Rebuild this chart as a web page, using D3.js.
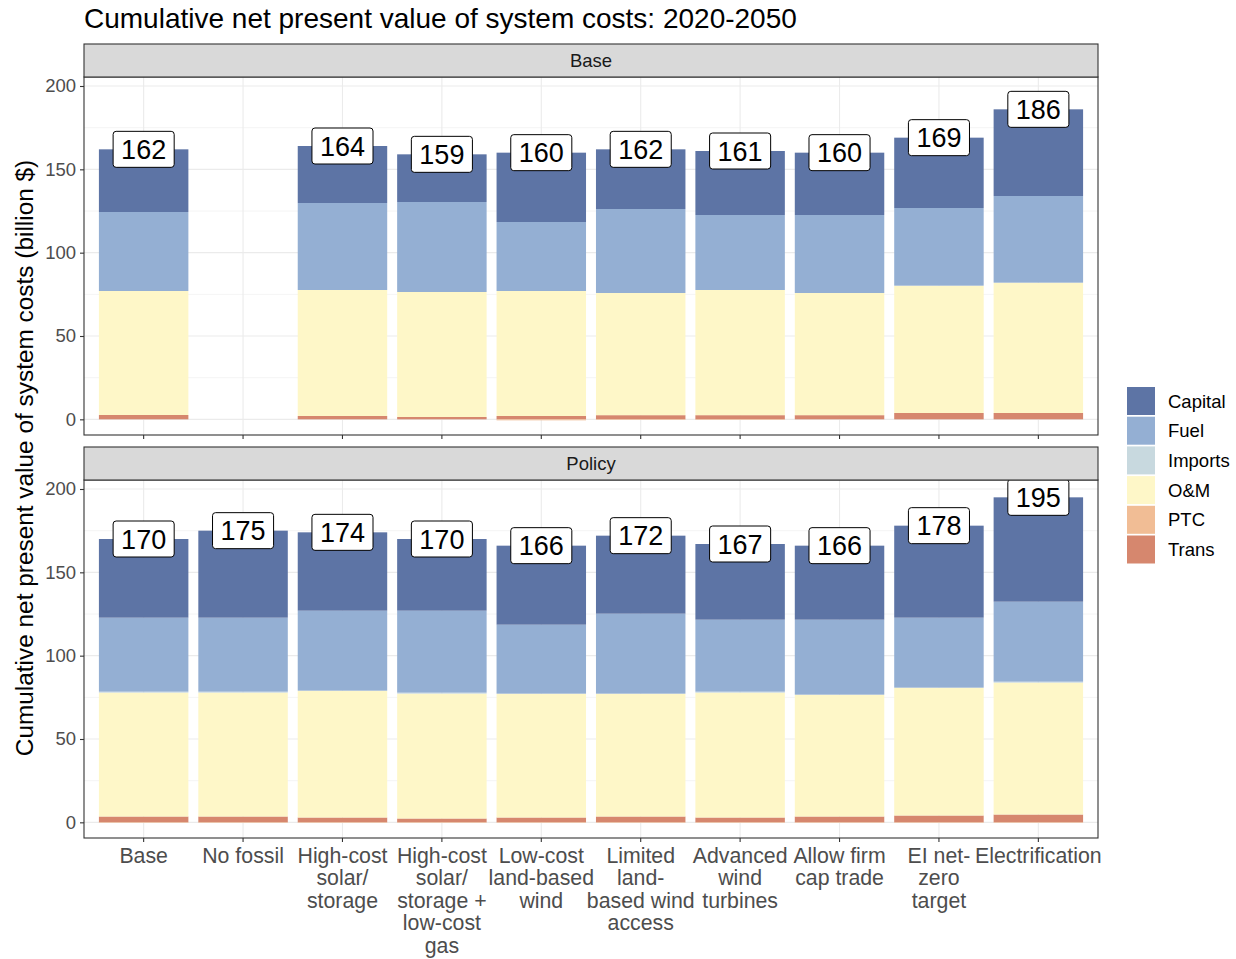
<!DOCTYPE html>
<html><head><meta charset="utf-8">
<script src="https://cdn.jsdelivr.net/npm/d3@7"></script>
<style>body{margin:0;background:#fff} text{font-family:"Liberation Sans",Arial,sans-serif}</style>
</head><body><svg id="c" width="1236" height="959"></svg>
<script>
// ---------- data ----------
const categories = ["Base","No fossil","High-cost solar/storage","High-cost solar/storage + low-cost gas","Low-cost land-based wind","Limited land-based wind access","Advanced wind turbines","Allow firm cap trade","EI net-zero target","Electrification"];
const categoryLabels = [["Base"],["No fossil"],["High-cost","solar/","storage"],["High-cost","solar/","storage +","low-cost","gas"],["Low-cost","land-based","wind"],["Limited","land-","based wind","access"],["Advanced","wind","turbines"],["Allow firm","cap trade"],["EI net-","zero","target"],["Electrification"]];
const panels = ["Base","Policy"];
const seriesNames = ["Capital","Fuel","Imports","O&M","PTC","Trans"];
const seriesColors = ["#5D74A5","#94AFD3","#C8D9DF","#FEF7C8","#F1BD95","#D6876E"];

// Base panel (null = no bar)
const capitalBase = [37.6, null, 34.2, 28.6, 41.6, 35.8, 38.4, 37.4, 42.2, 52.0];
const fuelBase    = [47.4, null, 52.2, 54.0, 41.4, 50.4, 45.0, 46.8, 46.6, 52.0];
const importsBase = [0, null, 0, 0, 0, 0, 0, 0, 0, 0];
const omBase      = [74.4, null, 75.6, 75.0, 75.0, 73.3, 75.1, 73.3, 76.4, 78.2];
const ptcBase     = [0, null, 0, 0, -0.6, -0.3, -0.3, 0, 0, 0];
const transBase   = [2.6, null, 2.0, 1.4, 2.0, 2.5, 2.5, 2.5, 3.8, 3.8];
const totalBase   = [162, null, 164, 159, 160, 162, 161, 160, 169, 186];

// Policy panel
const capitalPolicy = [47.2, 52.2, 47.0, 43.0, 47.4, 46.8, 45.4, 44.4, 55.2, 62.6];
const fuelPolicy    = [44.4, 44.4, 48.0, 49.2, 41.4, 48.0, 43.2, 45.0, 42.0, 48.0];
const importsPolicy = [0.6, 0.6, 0, 0.6, 0, 0, 0.6, 0, 0, 0.6];
const omPolicy      = [74.3, 74.3, 76.1, 74.9, 74.3, 73.7, 74.9, 73.1, 76.7, 79.1];
const ptcPolicy     = [-0.3, -0.3, -0.3, -0.3, -0.3, -0.3, -0.3, -0.3, -0.3, -0.3];
const transPolicy   = [3.5, 3.5, 2.9, 2.3, 2.9, 3.5, 2.9, 3.5, 4.1, 4.7];
const totalPolicy   = [170, 175, 174, 170, 166, 172, 167, 166, 178, 195];

const yTicks = [0, 50, 100, 150, 200];
const yMinor = [25, 75, 125, 175];

const panelData = {
  Base:   {Capital: capitalBase, Fuel: fuelBase, Imports: importsBase, "O&M": omBase, PTC: ptcBase, Trans: transBase, total: totalBase},
  Policy: {Capital: capitalPolicy, Fuel: fuelPolicy, Imports: importsPolicy, "O&M": omPolicy, PTC: ptcPolicy, Trans: transPolicy, total: totalPolicy}
};

// ---------- layout ----------
const svg = d3.select("#c");
const font = '"Liberation Sans",Arial,sans-serif';
const L = 84, R = 1098;
const layout = [{strip: 44, top: 77, bottom: 435}, {strip: 447, top: 480, bottom: 838}];
const color = d3.scaleOrdinal().domain(seriesNames).range(seriesColors);
const x = d3.scaleBand().domain(categories).range([L, R]).paddingInner(0.1).paddingOuter(0.15);

svg.append("text").attr("x", 84).attr("y", 28).attr("font-size", 28).attr("fill", "#000")
  .text("Cumulative net present value of system costs: 2020-2050");

const stackKeys = ["Trans","PTC","O&M","Imports","Fuel","Capital"];

panels.forEach((p, pi) => {
  const lay = layout[pi];
  const y = d3.scaleLinear().domain([-9.4, 205.4]).range([lay.bottom, lay.top]);
  const d = panelData[p];
  const g = svg.append("g");
  // grid
  g.selectAll(".minor").data(yMinor).join("line")
    .attr("x1", L).attr("x2", R).attr("y1", v => y(v)).attr("y2", v => y(v))
    .attr("stroke", "#EBEBEB").attr("stroke-width", 0.55);
  g.selectAll(".major").data(yTicks).join("line")
    .attr("x1", L).attr("x2", R).attr("y1", v => y(v)).attr("y2", v => y(v))
    .attr("stroke", "#EBEBEB").attr("stroke-width", 1.1);
  g.selectAll(".vmajor").data(categories).join("line")
    .attr("x1", c => x(c) + x.bandwidth()/2).attr("x2", c => x(c) + x.bandwidth()/2)
    .attr("y1", lay.top).attr("y2", lay.bottom)
    .attr("stroke", "#EBEBEB").attr("stroke-width", 1.1);

  // bars
  const rows = categories.map((c, i) => {
    const r = {cat: c, present: d.total[i] != null};
    stackKeys.forEach(k => r[k] = d[k][i] == null ? 0 : d[k][i]);
    return r;
  });
  const stacked = d3.stack().keys(stackKeys).offset(d3.stackOffsetDiverging)(rows);
  stacked.forEach(layer => {
    g.append("g").selectAll("rect").data(layer.filter(s => s.data.present && s[1] !== s[0])).join("rect")
      .attr("x", s => x(s.data.cat)).attr("width", x.bandwidth())
      .attr("y", s => y(Math.max(s[0], s[1]))).attr("height", s => Math.abs(y(s[0]) - y(s[1])))
      .attr("fill", color(layer.key));
  });

  // labels
  categories.forEach((c, i) => {
    const t = d.total[i];
    if (t == null) return;
    const cx = x(c) + x.bandwidth()/2, cy = y(t);
    const lg = g.append("g");
    const rect = lg.append("rect");
    const txt = lg.append("text").attr("x", cx).attr("y", cy).attr("text-anchor", "middle")
      .attr("dy", "0.36em").attr("font-size", 27).attr("fill", "#000").text(t);
    const w = txt.node().getComputedTextLength() + 16;
    rect.attr("x", cx - w/2).attr("y", cy - 18).attr("width", w).attr("height", 36)
      .attr("rx", 3).attr("fill", "#fff").attr("stroke", "#000").attr("stroke-width", 1);
  });

  // panel border
  g.append("rect").attr("x", L).attr("y", lay.top).attr("width", R - L).attr("height", lay.bottom - lay.top)
    .attr("fill", "none").attr("stroke", "#333333").attr("stroke-width", 1.1);
  // strip
  g.append("rect").attr("x", L).attr("y", lay.strip).attr("width", R - L).attr("height", lay.top - lay.strip)
    .attr("fill", "#D9D9D9").attr("stroke", "#333333").attr("stroke-width", 1.1);
  g.append("text").attr("x", (L + R)/2).attr("y", (lay.strip + lay.top)/2).attr("dy", "0.36em")
    .attr("text-anchor", "middle").attr("font-size", 18.5).attr("fill", "#1A1A1A").text(p);

  // y axis
  const ya = g.append("g").attr("transform", `translate(${L},0)`)
    .call(d3.axisLeft(y).tickValues(yTicks).tickSize(4).tickPadding(4));
  ya.select(".domain").remove();
  ya.selectAll("line").attr("stroke", "#333333").attr("stroke-width", 1.1);
  ya.selectAll("text").attr("font-size", 18.5).attr("fill", "#4D4D4D").attr("font-family", font);

  // x axis ticks
  const xa = g.append("g").attr("transform", `translate(0,${lay.bottom})`)
    .call(d3.axisBottom(x).tickSize(4).tickFormat(""));
  xa.select(".domain").remove();
  xa.selectAll("line").attr("stroke", "#333333").attr("stroke-width", 1.1);
  if (pi === 1) {
    xa.selectAll(".tick").each(function(c, i) {
      const t = d3.select(this).append("text").attr("text-anchor", "middle")
        .attr("font-size", 21.3).attr("fill", "#4D4D4D").attr("font-family", font);
      categoryLabels[i].forEach((ln, j) => {
        t.append("tspan").attr("x", 0).attr("y", 25 + j * 22.4).text(ln);
      });
    });
  }
});

// y axis title
svg.append("text").attr("transform", "translate(33,458) rotate(-90)").attr("text-anchor", "middle")
  .attr("font-size", 24.4).attr("fill", "#000").text("Cumulative net present value of system costs (billion $)");

// legend
const leg = svg.append("g");
seriesNames.forEach((s, i) => {
  const yy = 387 + i * 29.7;
  leg.append("rect").attr("x", 1127).attr("y", yy).attr("width", 28).attr("height", 28).attr("fill", color(s));
  leg.append("text").attr("x", 1168).attr("y", yy + 14).attr("dy", "0.36em").attr("font-size", 18.5)
    .attr("fill", "#000").text(s);
});
</script></body></html>
